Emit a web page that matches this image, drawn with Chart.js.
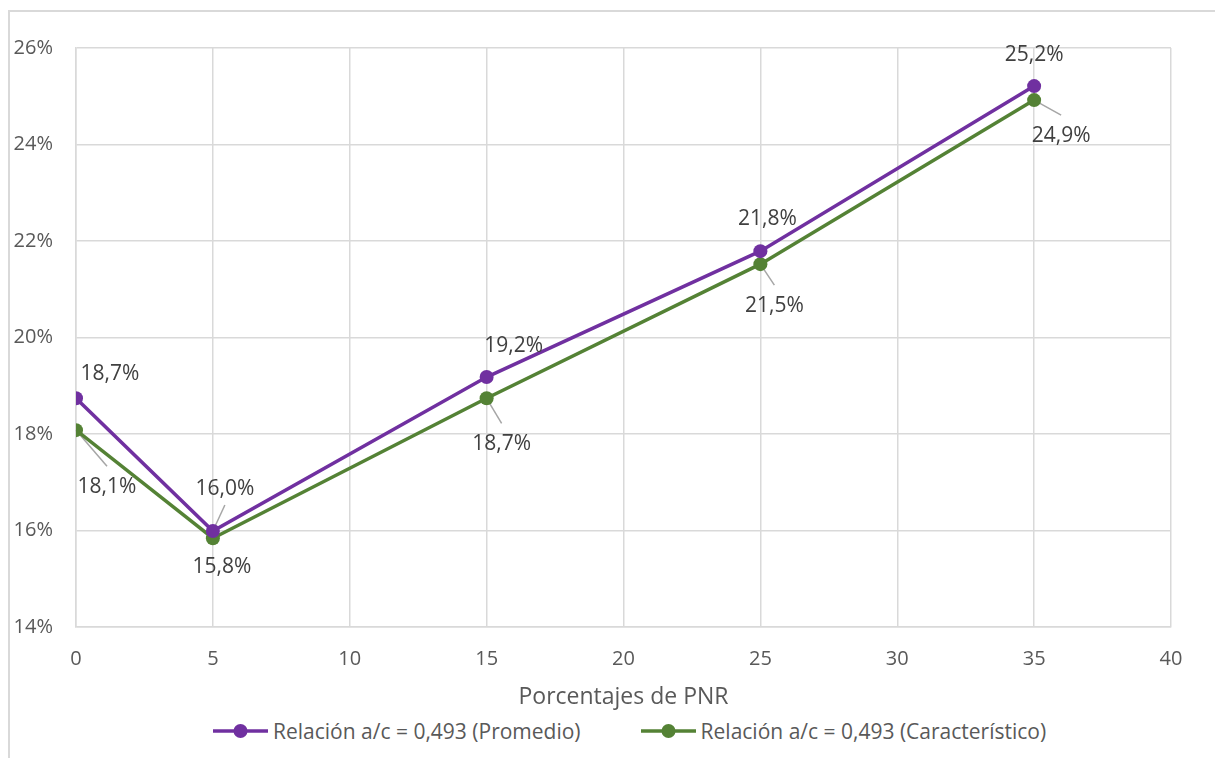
<!DOCTYPE html>
<html>
<head>
<meta charset="utf-8">
<script src="https://cdn.jsdelivr.net/npm/chart.js@4.4.0/dist/chart.umd.min.js"></script>
<style>
  body { margin: 0; background: #fff; font-family: 'Open Sans', sans-serif; }
  #wrap { position: relative; width: 1215px; height: 758px; overflow: hidden; }
  #frame { position: absolute; left: 8px; top: 10px; width: 1300px; height: 900px;
           border-top: 2px solid #d9d9d9; border-left: 2px solid #d9d9d9; }
  #chart { position: absolute; left: 0; top: 0; }
  #legend { position: absolute; top: 717px; left: 213px; display: flex;
            gap: 60px; color: #595959; font-size: 21px; }
  .item { display: flex; align-items: center; gap: 5px; }
</style>
</head>
<body>
<div id="wrap">
  <div id="frame"></div>
  <canvas id="chart" width="1215" height="715"></canvas>
  <div id="legend"></div>
</div>
<script>
// datos
const pnr = [0, 5, 15, 25, 35];
const promedio = [18.74, 15.99, 19.18, 21.79, 25.21];
const caracteristico = [18.08, 15.84, 18.74, 21.52, 24.92];
const serieNombres = ['Relación a/c = 0,493 (Promedio)', 'Relación a/c = 0,493 (Característico)'];
const colores = ['#7030a0', '#548235'];

// desplazamiento de las etiquetas (px) y si llevan línea guía
const etiquetasPos = [
    [[34, -24, false], [12, -42, true], [27, -31, false], [7, -32, false], [0, -31, false]],
    [[31, 57, true], [9, 29, false], [15, 46, true], [14, 42, true], [27, 36, true]]
];

const fmt = v => v.toFixed(1).replace('.', ',') + '%';

const etiquetasPlugin = {
    id: 'etiquetas',
    beforeDatasetsDraw(chart) {
        const ctx = chart.ctx;
        ctx.save();
        ctx.strokeStyle = '#a6a6a6';
        ctx.lineWidth = 1.5;
        chart.data.datasets.forEach((ds, i) => {
            chart.getDatasetMeta(i).data.forEach((pt, j) => {
                const [dx, dy, guia] = etiquetasPos[i][j];
                if (!guia) return;
                const ey = dy > 0 ? dy - 21 : dy + 16;
                ctx.beginPath();
                ctx.moveTo(pt.x, pt.y);
                ctx.lineTo(pt.x + dx, pt.y + ey);
                ctx.stroke();
            });
        });
        ctx.restore();
    },
    afterDatasetsDraw(chart) {
        const ctx = chart.ctx;
        ctx.save();
        ctx.font = '21px "Open Sans"';
        ctx.fillStyle = '#404040';
        ctx.textAlign = 'center';
        ctx.textBaseline = 'middle';
        chart.data.datasets.forEach((ds, i) => {
            chart.getDatasetMeta(i).data.forEach((pt, j) => {
                const [dx, dy] = etiquetasPos[i][j];
                ctx.fillText(fmt(ds.data[j].y), pt.x + dx, pt.y + dy);
            });
        });
        ctx.restore();
    }
};

const datasets = [promedio, caracteristico].map((serie, i) => ({
    label: serieNombres[i],
    data: serie.map((v, j) => ({ x: pnr[j], y: v })),
    borderColor: colores[i],
    backgroundColor: colores[i],
    borderWidth: 3.5,
    pointRadius: 7,
    pointHoverRadius: 7,
    pointBorderWidth: 0,
    tension: 0
}));

new Chart(document.getElementById('chart'), {
    type: 'line',
    data: { datasets: datasets },
    plugins: [etiquetasPlugin],
    options: {
        responsive: false,
        animation: false,
        layout: { padding: { left: 0, right: 44, top: 48, bottom: 0 } },
        plugins: { legend: { display: false }, tooltip: { enabled: false } },
        scales: {
            x: {
                type: 'linear',
                min: 0, max: 40,
                ticks: { stepSize: 5, color: '#595959', font: { family: 'Open Sans', size: 20 }, padding: 20 },
                grid: { color: '#d9d9d9', lineWidth: 1.5, drawTicks: false },
                border: { color: '#d9d9d9', width: 1.5 },
                title: { display: true, text: 'Porcentajes de PNR', color: '#595959',
                         font: { family: 'Open Sans', size: 23 }, padding: { top: 0, bottom: 4 } },
                afterFit(s) { s.height = 88; }
            },
            y: {
                min: 14, max: 26,
                ticks: { stepSize: 2, color: '#595959', font: { family: 'Open Sans', size: 20 }, padding: 23,
                         callback: v => v + '%' },
                grid: { color: '#d9d9d9', lineWidth: 1.5, drawTicks: false },
                border: { color: '#d9d9d9', width: 1.5 },
                afterFit(s) { s.width = 76; }
            }
        }
    }
});

// leyenda
const leyenda = document.getElementById('legend');
serieNombres.forEach((nombre, i) => {
    const item = document.createElement('div');
    item.className = 'item';
    const c = document.createElement('canvas');
    c.width = 55; c.height = 18;
    const g = c.getContext('2d');
    g.strokeStyle = colores[i]; g.fillStyle = colores[i]; g.lineWidth = 3.5;
    g.beginPath(); g.moveTo(0, 9); g.lineTo(55, 9); g.stroke();
    g.beginPath(); g.arc(27.5, 9, 7, 0, Math.PI * 2); g.fill();
    const t = document.createElement('span');
    t.textContent = nombre;
    item.appendChild(c); item.appendChild(t);
    leyenda.appendChild(item);
});
</script>
</body>
</html>
